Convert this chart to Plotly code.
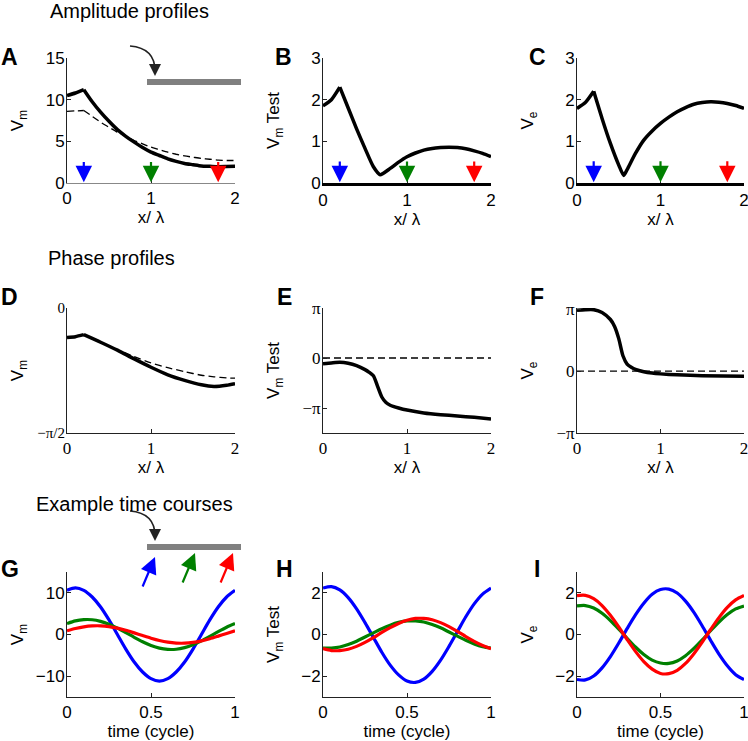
import math
import plotly.graph_objects as go
from plotly.subplots import make_subplots

W, H = 748, 741
PI = math.pi

# amplitude profiles (A-C)
x_A = [0, 0.1, 0.2, 0.3, 0.4, 0.5, 0.6, 0.7, 0.8, 0.9, 1.0, 1.1, 1.2, 1.3, 1.4, 1.5, 1.6, 1.7, 1.8, 1.9, 2.0]
vm_A = [10.5, 10.8, 11.2, 9.75, 8.5, 7.4, 6.4, 5.6, 4.9, 4.25, 3.7, 3.3, 2.9, 2.6, 2.35, 2.2, 2.05, 2.0, 1.95, 1.97, 2.0]
vm_A_passive = [8.6, 8.65, 8.7, 8.0, 7.3, 6.7, 6.1, 5.6, 5.1, 4.7, 4.3, 4.0, 3.7, 3.45, 3.25, 3.1, 2.95, 2.85, 2.75, 2.7, 2.7]

x_B = [0, 0.1, 0.2, 0.3, 0.4, 0.5, 0.6, 0.68, 0.8, 0.9, 1.0, 1.1, 1.2, 1.3, 1.4, 1.5, 1.6, 1.7, 1.8, 1.9, 2.0]
vm_test_B = [1.85, 2.0, 2.3, 1.8, 1.3, 0.83, 0.39, 0.2, 0.35, 0.5, 0.63, 0.72, 0.79, 0.83, 0.85, 0.86, 0.85, 0.82, 0.77, 0.71, 0.63]

x_C = [0, 0.1, 0.2, 0.3, 0.4, 0.5, 0.56, 0.6, 0.7, 0.8, 0.9, 1.0, 1.1, 1.2, 1.3, 1.4, 1.5, 1.6, 1.7, 1.8, 1.9, 2.0]
ve_C = [1.79, 1.93, 2.2, 1.55, 0.95, 0.43, 0.18, 0.32, 0.71, 1.03, 1.25, 1.43, 1.58, 1.71, 1.81, 1.89, 1.93, 1.95, 1.94, 1.91, 1.86, 1.79]

arrow_x = [0.2, 1.0, 1.8]
arrow_colors = ["#0000ff", "#008000", "#ff0000"]

# phase profiles (D-F), radians
x_D = [0, 0.1, 0.2, 0.4, 0.6, 0.8, 1.0, 1.2, 1.4, 1.6, 1.75, 1.9, 2.0]
ph_D = [-0.37, -0.36, -0.335, -0.43, -0.53, -0.64, -0.745, -0.84, -0.91, -0.965, -0.985, -0.97, -0.95]
ph_D_passive = [-0.37, -0.36, -0.335, -0.43, -0.525, -0.61, -0.69, -0.75, -0.80, -0.845, -0.865, -0.878, -0.882]

x_E = [0, 0.1, 0.2, 0.3, 0.4, 0.5, 0.55, 0.6, 0.65, 0.7, 0.75, 0.8, 0.9, 1.0, 1.2, 1.4, 1.6, 1.8, 2.0]
ph_E = [-0.36, -0.31, -0.27, -0.33, -0.48, -0.73, -0.9, -1.12, -1.78, -2.45, -2.8, -2.97, -3.14, -3.27, -3.45, -3.56, -3.64, -3.73, -3.83]

x_F = [0, 0.1, 0.2, 0.3, 0.4, 0.45, 0.5, 0.55, 0.6, 0.65, 0.7, 0.8, 0.9, 1.0, 1.2, 1.5, 2.0]
ph_F = [3.09, 3.12, 3.12, 2.98, 2.62, 2.27, 1.65, 0.78, 0.36, 0.2, 0.09, -0.03, -0.1, -0.14, -0.19, -0.23, -0.26]

# time courses (G-I)
t = [0, 0.05, 0.1, 0.15, 0.2, 0.25, 0.3, 0.35, 0.4, 0.45, 0.5, 0.55, 0.6, 0.65, 0.7, 0.75, 0.8, 0.85, 0.9, 0.95, 1.0]
vm_blue = [10.6, 11.2, 10.6, 9.0, 6.6, 3.5, 0.0, -3.5, -6.6, -9.0, -10.6, -11.2, -10.6, -9.0, -6.6, -3.5, 0.0, 3.5, 6.6, 9.0, 10.6]
vm_green = [2.62, 3.26, 3.57, 3.54, 3.15, 2.46, 1.53, 0.45, -0.67, -1.73, -2.62, -3.26, -3.57, -3.54, -3.15, -2.46, -1.53, -0.45, 0.67, 1.73, 2.62]
vm_red = [0.89, 1.44, 1.84, 2.06, 2.08, 1.9, 1.53, 1.01, 0.39, -0.26, -0.89, -1.44, -1.84, -2.06, -2.08, -1.9, -1.53, -1.01, -0.39, 0.26, 0.89]

test_blue = [2.23, 2.3, 2.14, 1.77, 1.23, 0.57, -0.14, -0.85, -1.47, -1.94, -2.23, -2.3, -2.14, -1.77, -1.23, -0.57, 0.14, 0.85, 1.47, 1.94, 2.23]
test_green = [-0.65, -0.65, -0.6, -0.48, -0.32, -0.12, 0.08, 0.28, 0.45, 0.58, 0.65, 0.65, 0.6, 0.48, 0.32, 0.12, -0.08, -0.28, -0.45, -0.58, -0.65]
test_red = [-0.68, -0.77, -0.77, -0.71, -0.57, -0.38, -0.15, 0.1, 0.33, 0.53, 0.68, 0.77, 0.77, 0.71, 0.57, 0.38, 0.15, -0.1, -0.33, -0.53, -0.68]

ve_blue = [-2.16, -2.18, -1.99, -1.6, -1.06, -0.41, 0.28, 0.94, 1.5, 1.93, 2.16, 2.18, 1.99, 1.6, 1.06, 0.41, -0.28, -0.94, -1.5, -1.93, -2.16]
ve_green = [1.37, 1.39, 1.27, 1.02, 0.67, 0.26, -0.18, -0.6, -0.96, -1.23, -1.37, -1.39, -1.27, -1.02, -0.67, -0.26, 0.18, 0.6, 0.96, 1.23, 1.37]
ve_red = [1.87, 1.88, 1.72, 1.39, 0.92, 0.36, -0.24, -0.81, -1.3, -1.66, -1.87, -1.88, -1.72, -1.39, -0.92, -0.36, 0.24, 0.81, 1.3, 1.66, 1.87]


def px(p):
    return p / W


def py(p):
    return 1 - p / H


SANS = "Liberation Sans, Arial, Helvetica"
SERIF = "Liberation Serif, Times New Roman"
cols_px = [(67, 235), (323, 491), (577, 744)]
rows_px = [(58, 183), (308, 433), (572, 697)]

fig = make_subplots(rows=3, cols=3)
for r, (y0, y1) in enumerate(rows_px):
    for c, (x0, x1) in enumerate(cols_px):
        fig.update_xaxes(domain=[px(x0), px(x1)], row=r + 1, col=c + 1)
        fig.update_yaxes(domain=[py(y1), py(y0)], row=r + 1, col=c + 1)

solid = dict(color="black", width=3.5, shape="spline", smoothing=0.6)
dashed = dict(color="black", width=1.3, dash="7px,4px", shape="spline", smoothing=0.6)


def add_split(x, y, row, col, line, k=2):
    # split at the cusp (x = 0.2) so the spline keeps the corner
    fig.add_trace(go.Scatter(x=x[:k + 1], y=y[:k + 1], mode="lines", line=line), row=row, col=col)
    fig.add_trace(go.Scatter(x=x[k:], y=y[k:], mode="lines", line=line), row=row, col=col)


add_split(x_A, vm_A_passive, 1, 1, dashed)
add_split(x_A, vm_A, 1, 1, solid)
add_split(x_B, vm_test_B, 1, 2, solid)
add_split(x_C, ve_C, 1, 3, solid)
add_split(x_D, ph_D_passive, 2, 1, dashed)
add_split(x_D, ph_D, 2, 1, solid)
fig.add_trace(go.Scatter(x=x_E, y=ph_E, mode="lines", line=solid), row=2, col=2)
fig.add_trace(go.Scatter(x=x_F, y=ph_F, mode="lines", line=solid), row=2, col=3)
fig.add_hline(y=0, row=2, col=2, line=dict(color="black", width=1.3, dash="7px,4px"), layer="below")
fig.add_hline(y=0, row=2, col=3, line=dict(color="black", width=1.3, dash="7px,4px"), layer="below")

for col, series in [(1, [vm_blue, vm_green, vm_red]),
                    (2, [test_blue, test_green, test_red]),
                    (3, [ve_blue, ve_green, ve_red])]:
    for ys, colr in zip(series, arrow_colors):
        fig.add_trace(go.Scatter(x=t, y=ys, mode="lines",
                                 line=dict(color=colr, width=3.2, shape="spline", smoothing=0.8)),
                      row=3, col=col)

# axes styling
axis_common = dict(showline=True, linecolor="#222", linewidth=1, ticks="inside", ticklen=4,
                   tickcolor="#222", showgrid=False, zeroline=False, mirror=False, automargin=False,
                   ticklabeloverflow="allow")
fig.update_xaxes(**axis_common)
fig.update_yaxes(ticklabelstandoff=-2, **axis_common)

sans_tick = dict(family=SANS, size=17, color="black")
serif_tick = dict(family=SERIF, size=17, color="black")
title_font = dict(family=SANS, size=17, color="black")

for c in (1, 2, 3):
    fig.update_xaxes(range=[0, 2], tickvals=[0, 1, 2], tickfont=sans_tick,
                     title=dict(text="x/ λ", font=title_font, standoff=2), row=1, col=c)
    fig.update_xaxes(range=[0, 2], tickvals=[0, 1, 2], tickfont=serif_tick,
                     title=dict(text="x/ λ", font=title_font, standoff=2), row=2, col=c)
    fig.update_xaxes(range=[0, 1], tickvals=[0, 0.5, 1], ticktext=["0", "0.5", "1"], tickfont=sans_tick,
                     title=dict(text="time (cycle)", font=title_font, standoff=0), row=3, col=c)

fig.update_xaxes(linewidth=3, linecolor="black", row=1, col=2)
fig.update_xaxes(linewidth=3, linecolor="black", row=1, col=3)
fig.update_xaxes(linecolor="#888", row=1, col=1)

fig.update_yaxes(range=[0, 15], tickvals=[0, 5, 10, 15], tickfont=sans_tick,
                 title=dict(text="V<sub>m</sub>", font=title_font), row=1, col=1)
fig.update_yaxes(range=[0, 3], tickvals=[0, 1, 2, 3], tickfont=sans_tick,
                 title=dict(text="V<sub>m</sub> Test", font=title_font), row=1, col=2)
fig.update_yaxes(range=[0, 3], tickvals=[0, 1, 2, 3], tickfont=sans_tick,
                 title=dict(text="V<sub>e</sub>", font=title_font), row=1, col=3)

fig.update_yaxes(range=[-PI / 2, 0], tickvals=[-PI / 2, 0], ticktext=["−π/2", "0"],
                 tickfont=dict(family=SERIF, size=15, color="black"),
                 title=dict(text="V<sub>m</sub>", font=title_font), row=2, col=1)
fig.update_yaxes(range=[-1.5 * PI, PI], tickvals=[-PI, 0, PI], ticktext=["−π", "0", "π"], tickfont=serif_tick,
                 title=dict(text="V<sub>m</sub> Test", font=title_font), row=2, col=2)
fig.update_yaxes(range=[-PI, PI * 1.02], tickvals=[-PI, 0, PI], ticktext=["−π", "0", "π"], tickfont=serif_tick,
                 title=dict(text="V<sub>e</sub>", font=title_font), row=2, col=3)

fig.update_yaxes(range=[-15, 15], tickvals=[-10, 0, 10], tickfont=sans_tick,
                 title=dict(text="V<sub>m</sub>", font=title_font), row=3, col=1)
fig.update_yaxes(range=[-3, 3], tickvals=[-2, 0, 2], tickfont=sans_tick,
                 title=dict(text="V<sub>m</sub> Test", font=title_font), row=3, col=2)
fig.update_yaxes(range=[-3, 3], tickvals=[-2, 0, 2], tickfont=sans_tick,
                 title=dict(text="V<sub>e</sub>", font=title_font), row=3, col=3)

# colored recording-site arrows in A-C
arrow_top = {1: 2.7, 2: 0.55, 3: 0.56}
arrow_tip = {1: 0.1, 2: 0.02, 3: 0.02}
for c in (1, 2, 3):
    xr = "x" if c == 1 else f"x{c}"
    yr = "y" if c == 1 else f"y{c}"
    for xv, colr in zip(arrow_x, arrow_colors):
        fig.add_annotation(x=xv, y=arrow_tip[c], ax=xv, ay=arrow_top[c], xref=xr, yref=yr, axref=xr, ayref=yr,
                           text="", showarrow=True, arrowhead=2, arrowsize=1.5, arrowwidth=2.2, arrowcolor=colr)

# arrows in G (paper coordinates, tail as pixel offset)
for (tx, ty), colr in zip([(155, 557), (195, 553), (233, 553)], arrow_colors):
    fig.add_annotation(x=px(tx), y=py(ty), xref="paper", yref="paper", ax=-13, ay=31,
                       text="", showarrow=True, arrowhead=2, arrowsize=1.5, arrowwidth=2.2, arrowcolor=colr)

# curved arrow heads
for tip_y in (76, 541):
    fig.add_annotation(x=px(155), y=py(tip_y), xref="paper", yref="paper", ax=0, ay=-9,
                       text="", showarrow=True, arrowhead=2, arrowsize=1.5, arrowwidth=1.6, arrowcolor="#222")

# section titles and panel letters
for text, cx, cy in [("Amplitude profiles", 129, 11), ("Phase profiles", 112, 258),
                     ("Example time courses", 134, 504)]:
    fig.add_annotation(x=px(cx), y=py(cy), xref="paper", yref="paper", text=text, showarrow=False,
                       xanchor="center", yanchor="middle", font=dict(family=SANS, size=20, color="black"))

for text, cx, cy in [("A", 9, 57), ("B", 283, 57), ("C", 537, 57),
                     ("D", 9, 297), ("E", 284, 297), ("F", 537, 297),
                     ("G", 10, 569), ("H", 284, 569), ("I", 537, 569)]:
    fig.add_annotation(x=px(cx), y=py(cy), xref="paper", yref="paper", text=f"<b>{text}</b>", showarrow=False,
                       xanchor="center", yanchor="middle", font=dict(family=SANS, size=23, color="black"))

for bar_y, start_y in [(82, 46), (547, 511)]:
    fig.add_shape(type="line", xref="paper", yref="paper", x0=px(147), x1=px(241),
                  y0=py(bar_y), y1=py(bar_y), line=dict(color="#808080", width=6))
    fig.add_shape(type="path", xref="paper", yref="paper",
                  path=f"M {px(130)},{py(start_y)} Q {px(155)},{py(start_y + 2)} {px(155)},{py(start_y + 25)}",
                  line=dict(color="#222", width=1.6))

fig.update_layout(template="none", width=W, height=H, margin=dict(l=0, r=0, t=0, b=0, autoexpand=False),
                  showlegend=False, plot_bgcolor="white", paper_bgcolor="white")

fig.write_html("out.html", config={"displayModeBar": False},
               post_script="document.body.style.margin='0';")
